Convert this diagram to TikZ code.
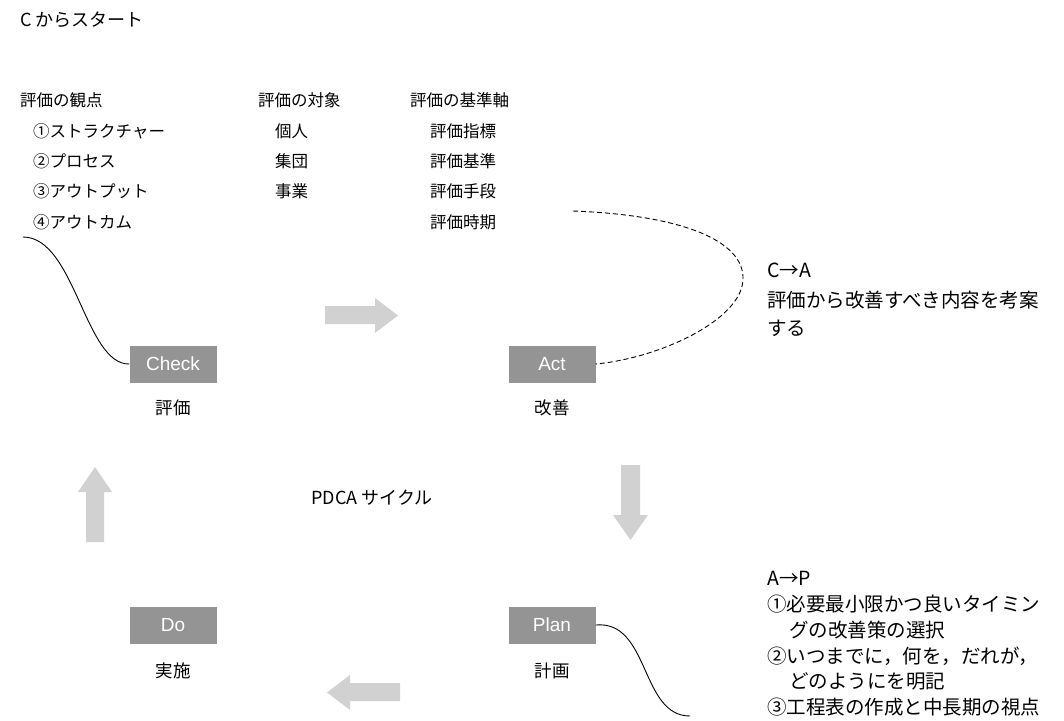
\documentclass[tikz,border=0pt]{standalone}
\usepackage{fontspec}
\setmainfont{Noto Sans CJK JP}
\newfontfamily\boxfont{Liberation Sans}
\begin{document}
\begin{tikzpicture}[x=1pt,y=-1pt,
  txt/.style={anchor=west,inner sep=0pt,font=\fontsize{16.5}{18}\selectfont},
  rtxt/.style={anchor=west,inner sep=0pt,font=\fontsize{19.5}{22}\selectfont},
  lbl/.style={inner sep=0pt,font=\fontsize{17.5}{19}\selectfont},
  stage/.style={fill=black!42,minimum width=87pt,minimum height=37pt,inner sep=0pt,text=white,font=\boxfont\fontsize{19}{21}\selectfont},
  blk/.style={fill=black!18,draw=none}]
\useasboundingbox (0,0) rectangle (1064,720);
% title
\node[txt,font=\fontsize{18}{20}\selectfont] (title) at (20,20) {C からスタート};
% column 1
\node[txt] (h1) at (20,100) {評価の観点};
\node[txt] (a1) at (33,131) {①ストラクチャー};
\node[txt] (a2) at (33,161) {②プロセス};
\node[txt] (a3) at (33,191) {③アウトプット};
\node[txt] (a4) at (33,222) {④アウトカム};
% column 2
\node[txt] (h2) at (258,100) {評価の対象};
\node[txt] (b1) at (275,131) {個人};
\node[txt] (b2) at (275,161) {集団};
\node[txt] (b3) at (275,191) {事業};
% column 3
\node[txt] (h3) at (410,100) {評価の基準軸};
\node[txt] (c1) at (430,131) {評価指標};
\node[txt] (c2) at (430,161) {評価基準};
\node[txt] (c3) at (430,191) {評価手段};
\node[txt] (c4) at (430,222) {評価時期};
\coordinate (dstart) at (573,211);
\coordinate (cstart) at (23,237);
% right top
\node[rtxt] (ca) at (767,270) {C→A};
\node[rtxt] (ca1) at (767,300) {評価から改善すべき内容を考案};
\node[rtxt] (ca2) at (767,328) {する};
% stages
\node[stage] (check) at (173,364) {Check};
\node[lbl] (checkl) at (173,408) {評価};
\node[stage] (act) at (552,364) {Act};
\node[lbl] (actl) at (552,408) {改善};
\node[stage] (do) at (173,625) {Do};
\node[lbl] (dol) at (173,671) {実施};
\node[stage] (plan) at (552,625) {Plan};
\node[lbl] (planl) at (552,671) {計画};
\node[lbl,font=\fontsize{18}{20}\selectfont] (pdca) at (372,498) {PDCA サイクル};
% right bottom
\node[rtxt] (ap) at (767,578) {A→P};
\node[rtxt] (ap1) at (767,604) {①必要最小限かつ良いタイミン};
\node[rtxt] (ap2) at (789,630) {グの改善策の選択};
\node[rtxt] (ap3) at (767,656) {②いつまでに，何を，だれが，};
\node[rtxt] (ap4) at (789,681) {どのようにを明記};
\node[rtxt] (ap5) at (767,707) {③工程表の作成と中長期の視点};
\coordinate (pend) at (690,716);
% block arrows
\fill[blk] (325,306) -- (375,306) -- (375,298) -- (398,315.5) -- (375,333) -- (375,324) -- (325,324) -- cycle;
\fill[blk] (621,465) -- (640,465) -- (640,515) -- (648,515) -- (630.5,540) -- (613,515) -- (621,515) -- cycle;
\fill[blk] (86,542) -- (104,542) -- (104,492) -- (112,492) -- (95,467) -- (78,492) -- (86,492) -- cycle;
\fill[blk] (400,683) -- (350,683) -- (350,675) -- (327,692.5) -- (350,710) -- (350,701) -- (400,701) -- cycle;
% connectors
\draw[line width=0.9pt] (cstart) .. controls (75,237) and (85,365) .. (check.west);
\draw[line width=0.9pt,dash pattern=on 5pt off 3pt] (dstart) .. controls (680,215) and (745,240) .. (743,280) .. controls (741,320) and (660,358) .. (act.east);
\draw[line width=0.9pt] (plan.east) .. controls (650,620) and (640,716) .. (pend);
\end{tikzpicture}
\end{document}
